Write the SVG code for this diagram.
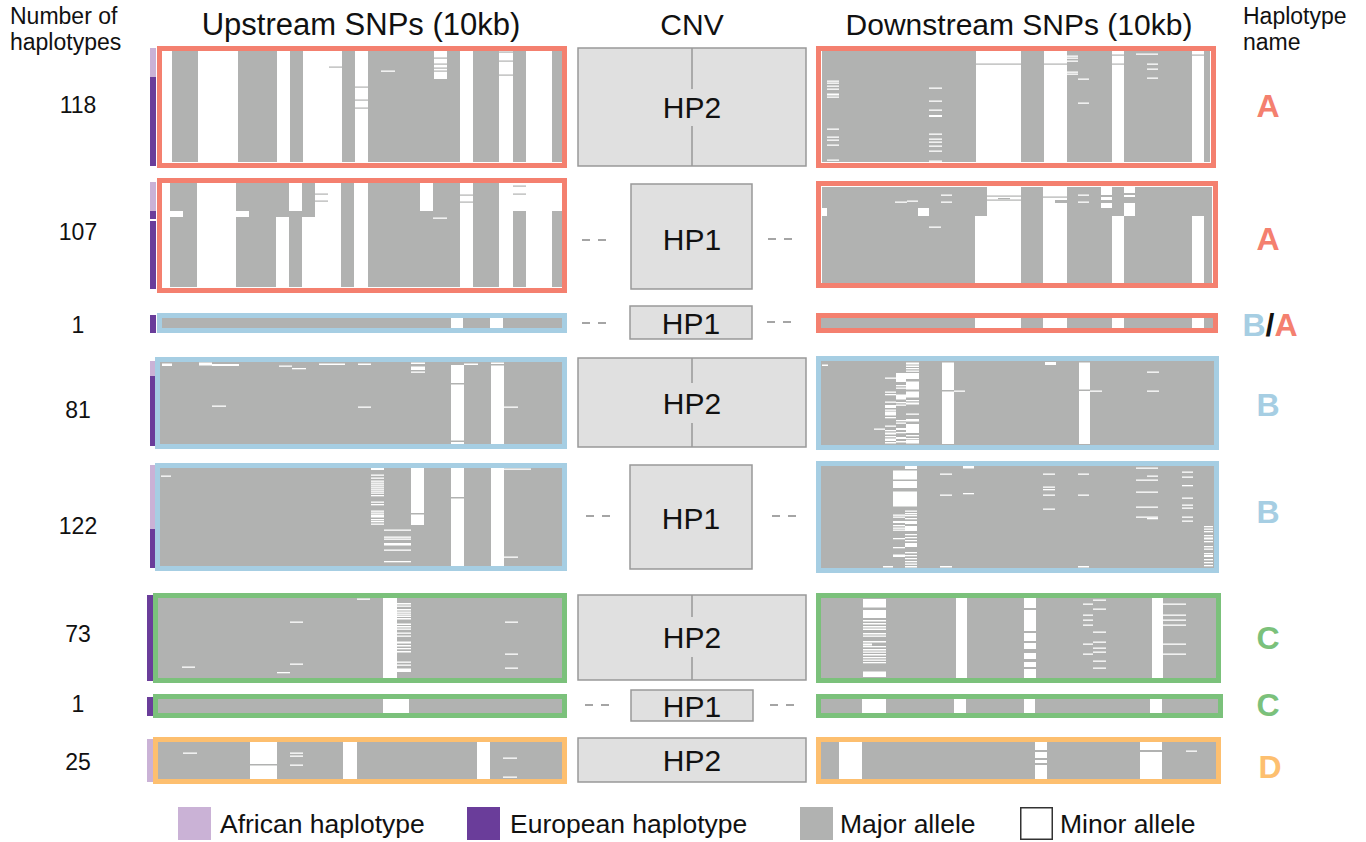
<svg xmlns="http://www.w3.org/2000/svg" width="1366" height="842" viewBox="0 0 1366 842">
<style>
text{font-family:"Liberation Sans",Arial,Helvetica,sans-serif;fill:#111}
.g{fill:#b1b2b1}
.w rect,rect.w{fill:#fff}
.gl rect{fill:#b1b2b1}
.bR{fill:none;stroke:#f4806f;stroke-width:5}
.bB{fill:none;stroke:#a6cee3;stroke-width:5}
.bG{fill:none;stroke:#7bc17b;stroke-width:5}
.bO{fill:none;stroke:#fdbf6f;stroke-width:5}
.af{fill:#cab2d6}
.eu{fill:#6a3d9a}
.cnv rect{fill:#e0e0e0;stroke:#999;stroke-width:1.5}
.cnv line{stroke:#999;stroke-width:1.5}
.cnv text{font-size:30px;text-anchor:middle}
.cnt{font-size:23px;text-anchor:middle}
.hd{font-size:30px;text-anchor:middle}
.sm{font-size:23px}
.nm{font-size:32px;font-weight:bold;text-anchor:middle}
.lg{font-size:26.5px}
.dash{stroke:#888;stroke-width:1.5;stroke-dasharray:8 8}
</style>

<!-- headers -->
<g id="headers">
<text class="sm" x="10" y="24">Number of</text>
<text class="sm" x="10" y="50">haplotypes</text>
<text class="hd" x="361" y="35" style="font-size:31px">Upstream SNPs (10kb)</text>
<text class="hd" x="692" y="35">CNV</text>
<text class="hd" x="1019" y="35">Downstream SNPs (10kb)</text>
<text class="sm" x="1243" y="24">Haplotype</text>
<text class="sm" x="1243" y="50">name</text>
</g>

<!-- counts -->
<g id="counts">
<text class="cnt" x="78" y="113">118</text>
<text class="cnt" x="78" y="240">107</text>
<text class="cnt" x="78" y="333">1</text>
<text class="cnt" x="78" y="418">81</text>
<text class="cnt" x="78" y="534">122</text>
<text class="cnt" x="78" y="642">73</text>
<text class="cnt" x="78" y="712">1</text>
<text class="cnt" x="78" y="770">25</text>
</g>

<!-- ancestry bars -->
<g id="ancestry">
<rect class="af" x="150" y="48" width="6" height="29"/><rect class="eu" x="150" y="77" width="6" height="89"/>
<rect class="af" x="150" y="182" width="6" height="29"/><rect class="eu" x="150" y="211" width="6" height="8"/><rect class="eu" x="150" y="221" width="6" height="68"/>
<rect class="eu" x="150" y="315" width="6" height="18"/>
<rect class="af" x="150" y="361" width="6" height="15"/><rect class="eu" x="150" y="376" width="6" height="70"/>
<rect class="af" x="150" y="465" width="6" height="64"/><rect class="eu" x="150" y="529" width="6" height="39"/>
<rect class="eu" x="147" y="595" width="6" height="86"/>
<rect class="eu" x="147" y="697" width="6" height="19"/>
<rect class="af" x="147" y="739" width="6" height="43"/>
</g>

<!-- Row 1 upstream -->
<g id="up1">
<rect class="g" x="162" y="51" width="400" height="111"/>
<g class="w">
<rect x="162" y="51" width="10" height="111"/><rect x="198" y="51" width="40" height="111"/><rect x="277" y="51" width="13" height="111"/>
<rect x="303" y="51" width="39" height="111"/><rect x="355" y="51" width="13" height="111"/><rect x="434" y="51" width="13" height="28"/>
<rect x="460" y="51" width="13" height="111"/><rect x="499" y="51" width="14" height="111"/><rect x="526" y="51" width="26" height="111"/>
<rect x="381" y="70.5" width="14" height="1.3"/>
</g>
<g class="gl">
<rect x="329" y="66.5" width="13" height="1.2"/><rect x="355" y="86.5" width="13" height="1.2"/><rect x="355" y="99.5" width="13" height="1.2"/><rect x="355" y="107.5" width="13" height="1.2"/>
<rect x="434" y="57.5" width="13" height="1.2"/><rect x="434" y="63.5" width="13" height="1.2"/><rect x="434" y="67.5" width="13" height="1.2"/><rect x="434" y="70.5" width="13" height="1.2"/>
<rect x="499" y="51.5" width="14" height="1.2"/><rect x="499" y="60.5" width="14" height="1.2"/><rect x="499" y="74.5" width="14" height="1.2"/>
</g>
<rect class="bR" x="159.5" y="48.5" width="405" height="117"/>
</g>

<!-- Row 1 downstream -->
<g id="down1">
<rect class="g" x="822" y="51" width="388" height="111"/>
<g class="w">
<rect x="976" y="51" width="45" height="111"/><rect x="1044" y="51" width="23" height="111"/><rect x="1112" y="51" width="12" height="111"/><rect x="1192" y="51" width="12" height="111"/>
<rect x="827" y="80.5" width="12" height="1.3"/><rect x="827" y="82.5" width="12" height="1.3"/><rect x="827" y="85.5" width="12" height="1.3"/><rect x="827" y="88.5" width="12" height="1.3"/><rect x="827" y="93.5" width="12" height="2"/><rect x="827" y="96.5" width="12" height="1.3"/><rect x="827" y="128.5" width="12" height="1.3"/><rect x="827" y="136.5" width="12" height="1.3"/><rect x="827" y="139.5" width="12" height="1.3"/><rect x="827" y="144.5" width="12" height="1.3"/><rect x="827" y="159.5" width="12" height="1.3"/>
<rect x="929" y="87.5" width="13" height="1.3"/><rect x="929" y="100.5" width="13" height="1.3"/><rect x="929" y="109.5" width="13" height="1.3"/><rect x="929" y="115" width="13" height="2"/><rect x="929" y="133.5" width="13" height="1.3"/><rect x="929" y="138.5" width="13" height="1.3"/><rect x="929" y="141.5" width="13" height="1.3"/><rect x="929" y="145.5" width="13" height="1.3"/><rect x="929" y="150.5" width="13" height="1.3"/><rect x="929" y="160.5" width="13" height="1.3"/>
<rect x="1067" y="55.5" width="11" height="1.3"/><rect x="1067" y="57.5" width="11" height="1.3"/><rect x="1067" y="60.5" width="11" height="1.3"/><rect x="1067" y="71.5" width="11" height="1.3"/><rect x="1067" y="73.5" width="11" height="1.3"/>
<rect x="1078" y="78.5" width="11" height="1.3"/><rect x="1078" y="102.5" width="11" height="1.3"/>
<rect x="1136" y="53.5" width="22" height="1.3"/><rect x="1147" y="63.5" width="11" height="1.3"/><rect x="1147" y="68.5" width="11" height="1.3"/><rect x="1147" y="77.5" width="11" height="1.3"/>
</g>
<g class="gl">
<rect x="976" y="63.5" width="45" height="1.2"/><rect x="1044" y="63.5" width="23" height="1.2"/><rect x="1112" y="54.5" width="12" height="1.2"/><rect x="1112" y="63.5" width="12" height="1.2"/><rect x="1192" y="54.5" width="12" height="1.2"/>
</g>
<rect class="bR" x="818.5" y="48.5" width="395" height="117"/>
</g>

<!-- Row 2 upstream -->
<g id="up2">
<rect class="g" x="162" y="183" width="400" height="104"/>
<g class="w">
<rect x="162" y="183" width="8" height="104"/><rect x="170" y="211" width="13" height="6"/><rect x="197" y="183" width="39" height="104"/><rect x="236" y="211" width="13" height="6"/>
<rect x="276" y="217" width="13" height="70"/><rect x="289" y="183" width="13" height="28"/><rect x="302" y="217" width="13" height="70"/><rect x="315" y="183" width="26" height="104"/>
<rect x="354" y="183" width="14" height="104"/><rect x="420" y="183" width="13" height="28"/><rect x="433" y="217.5" width="14" height="1.3"/>
<rect x="460" y="183" width="13" height="104"/><rect x="499" y="183" width="14" height="104"/><rect x="513" y="183" width="13" height="28"/><rect x="526" y="183" width="26" height="104"/><rect x="552" y="183" width="10" height="28"/>
</g>
<g class="gl">
<rect x="315" y="193.5" width="13" height="1.2"/><rect x="315" y="200.5" width="13" height="1.2"/><rect x="460" y="194.5" width="13" height="1.2"/><rect x="460" y="201.5" width="13" height="1.2"/>
<rect x="513" y="185.5" width="13" height="1.2"/><rect x="513" y="193.5" width="13" height="1.2"/>
</g>
<rect class="bR" x="159.5" y="180.5" width="405" height="110"/>
</g>

<!-- Row 2 downstream -->
<g id="down2">
<rect class="g" x="822" y="187" width="390" height="96"/>
<g class="w">
<rect x="822" y="208" width="5" height="8"/><rect x="895" y="201.5" width="12" height="1.3"/><rect x="907" y="200.5" width="11" height="1.3"/><rect x="918" y="208" width="11" height="8"/>
<rect x="929" y="226.5" width="12" height="1.3"/><rect x="941" y="194.5" width="11" height="1.3"/><rect x="941" y="201.5" width="11" height="1.3"/>
<rect x="975" y="216" width="12" height="67"/><rect x="987" y="187" width="34" height="96"/><rect x="1043" y="187" width="24" height="96"/>
<rect x="1078" y="194.5" width="11" height="1.3"/><rect x="1078" y="201.5" width="11" height="1.3"/>
<rect x="1101" y="187" width="11" height="8"/><rect x="1101" y="197" width="11" height="3"/><rect x="1101" y="203" width="11" height="5"/>
<rect x="1112" y="216" width="12" height="67"/><rect x="1124" y="187" width="11" height="6"/><rect x="1124" y="195" width="11" height="2"/><rect x="1124" y="203" width="11" height="13"/>
<rect x="1192" y="216" width="12" height="67"/>
</g>
<g class="gl">
<rect x="987" y="195.5" width="34" height="1.2"/><rect x="987" y="199.5" width="34" height="1.2"/><rect x="998" y="198" width="12" height="1.2"/>
<rect x="1043" y="196.5" width="24" height="1.2"/><rect x="1055" y="200" width="12" height="3"/>
</g>
<rect class="bR" x="818.5" y="183.5" width="397" height="102"/>
</g>

<!-- Row 3 -->
<g id="up3">
<rect class="g" x="162" y="318" width="400" height="10"/>
<g class="w"><rect x="451" y="318" width="12" height="10"/><rect x="490" y="318" width="13" height="10"/></g>
<rect class="bB" x="159.5" y="315.5" width="405" height="15"/>
</g>
<g id="down3">
<rect class="g" x="821" y="318" width="394" height="10"/>
<g class="w"><rect x="975" y="318" width="46" height="10"/><rect x="1043" y="318" width="24" height="10"/><rect x="1112" y="318" width="12" height="10"/><rect x="1192" y="318" width="12" height="10"/></g>
<rect class="bR" x="818.5" y="315.5" width="397" height="15"/>
</g>

<!-- Row 4 upstream -->
<g id="up4">
<rect class="g" x="160" y="362" width="402" height="82"/>
<g class="w">
<rect x="162" y="363.5" width="10" height="2.5"/><rect x="199" y="362.5" width="13" height="3"/><rect x="212" y="364" width="27" height="2"/><rect x="212" y="405.5" width="14" height="1.3"/>
<rect x="279" y="365.5" width="13" height="1.3"/><rect x="292" y="368" width="14" height="1.3"/><rect x="319" y="363.5" width="26" height="1.5"/><rect x="358" y="363.5" width="13" height="1.5"/><rect x="358" y="406.5" width="13" height="1.3"/>
<rect x="411" y="362.5" width="14" height="1.5"/><rect x="411" y="366.5" width="14" height="3.5"/><rect x="411" y="371.5" width="14" height="1.3"/>
<rect x="451" y="365" width="13" height="18"/><rect x="451" y="384.5" width="13" height="56"/><rect x="451" y="442" width="13" height="2"/>
<rect x="464" y="363.5" width="14" height="1.5"/><rect x="491" y="362.5" width="13" height="1.5"/><rect x="491" y="365.5" width="13" height="78.5"/><rect x="504" y="406.5" width="14" height="1.3"/>
</g>
<rect class="bB" x="157.5" y="359.5" width="407" height="87"/>
</g>

<!-- Row 4 downstream -->
<g id="down4">
<rect class="g" x="821" y="361" width="393" height="84"/>
<g class="w">
<rect x="822" y="364.5" width="6" height="1.5"/>
<rect x="885" y="377.5" width="11" height="1.3"/><rect x="885" y="391.5" width="11" height="1.3"/><rect x="885" y="394" width="11" height="1.3"/><rect x="885" y="401.5" width="11" height="1.3"/><rect x="885" y="405" width="11" height="3"/><rect x="885" y="409.5" width="11" height="1.3"/><rect x="885" y="411.5" width="11" height="4"/><rect x="885" y="417" width="11" height="1.3"/><rect x="885" y="425.5" width="11" height="1.3"/><rect x="885" y="430" width="11" height="1.3"/><rect x="885" y="432.5" width="11" height="2"/><rect x="885" y="436" width="11" height="1.3"/><rect x="885" y="438.5" width="11" height="2.5"/><rect x="885" y="442" width="11" height="1.5"/>
<rect x="896" y="373" width="10" height="9"/><rect x="896" y="385" width="10" height="1.3"/><rect x="896" y="387.5" width="10" height="1.3"/><rect x="896" y="394.5" width="10" height="5"/><rect x="896" y="402" width="10" height="1.3"/><rect x="896" y="404.5" width="10" height="1.3"/><rect x="896" y="420" width="10" height="1.3"/><rect x="896" y="422.5" width="10" height="1.3"/><rect x="896" y="428" width="10" height="2"/><rect x="896" y="432" width="10" height="1.3"/><rect x="896" y="437" width="10" height="2"/><rect x="896" y="441" width="10" height="1.5"/>
<rect x="906" y="362.5" width="13" height="2"/><rect x="906" y="365.5" width="13" height="1.5"/><rect x="906" y="368" width="13" height="1.3"/><rect x="906" y="370.5" width="13" height="1.3"/><rect x="906" y="373" width="13" height="6"/><rect x="906" y="381.5" width="13" height="8"/><rect x="906" y="391.5" width="13" height="6"/><rect x="906" y="400" width="13" height="1.3"/><rect x="906" y="402.5" width="13" height="2"/><rect x="906" y="413.5" width="13" height="1.3"/><rect x="906" y="419" width="13" height="2.5"/><rect x="906" y="424" width="13" height="9"/><rect x="906" y="435" width="13" height="1.3"/><rect x="906" y="438" width="13" height="1.3"/><rect x="906" y="440" width="13" height="3.5"/>
<rect x="874" y="428.5" width="11" height="1.3"/>
<rect x="942" y="362.5" width="12" height="27.5"/><rect x="942" y="391.5" width="12" height="52.5"/><rect x="954" y="390.5" width="11" height="1.3"/>
<rect x="1045" y="362" width="11" height="3"/>
<rect x="1079" y="362.5" width="11" height="27"/><rect x="1079" y="391" width="11" height="53"/><rect x="1090" y="390.5" width="12" height="1.3"/>
<rect x="1147" y="371.5" width="12" height="1.3"/><rect x="1147" y="390.5" width="12" height="1.3"/>
</g>
<rect class="bB" x="818.5" y="358.5" width="398" height="89"/>
</g>

<!-- Row 5 upstream -->
<g id="up5">
<rect class="g" x="160" y="468" width="402" height="98"/>
<g class="w">
<rect x="161" y="475.5" width="10" height="1.3"/>
<rect x="371" y="468" width="13" height="2"/><rect x="371" y="474.5" width="13" height="1.3"/><rect x="371" y="477.5" width="13" height="1.3"/><rect x="371" y="480.5" width="13" height="1.3"/><rect x="371" y="482.5" width="13" height="1.3"/><rect x="371" y="484.5" width="13" height="1.3"/><rect x="371" y="486.5" width="13" height="1.3"/><rect x="371" y="488.5" width="13" height="1.3"/><rect x="371" y="490.5" width="13" height="1.3"/><rect x="371" y="492.5" width="13" height="1.3"/><rect x="371" y="495" width="13" height="1.3"/><rect x="371" y="501.5" width="13" height="1.3"/><rect x="371" y="504" width="13" height="1.3"/><rect x="371" y="510.5" width="13" height="1.3"/><rect x="371" y="512.5" width="13" height="1.3"/><rect x="371" y="514.5" width="13" height="3"/><rect x="371" y="519" width="13" height="1.3"/><rect x="371" y="521" width="13" height="1.3"/><rect x="371" y="523.5" width="13" height="1.3"/>
<rect x="384" y="529.5" width="27" height="1.3"/><rect x="384" y="536.5" width="27" height="1.3"/><rect x="384" y="538.5" width="27" height="1.3"/><rect x="384" y="543" width="27" height="2.5"/><rect x="384" y="549.5" width="27" height="1.3"/><rect x="384" y="561" width="27" height="1.3"/>
<rect x="411" y="468" width="13" height="45"/><rect x="411" y="514.5" width="13" height="10.5"/>
<rect x="451" y="468" width="13" height="29"/><rect x="451" y="498.5" width="13" height="67.5"/>
<rect x="491" y="468" width="13" height="98"/><rect x="504" y="468.5" width="27" height="1.3"/><rect x="504" y="556.5" width="14" height="1.3"/>
</g>
<rect class="bB" x="157.5" y="465.5" width="407" height="103"/>
</g>

<!-- Row 5 downstream -->
<g id="down5">
<rect class="g" x="821" y="466" width="393" height="102"/>
<g class="w">
<rect x="905" y="466" width="12" height="3"/>
<rect x="893" y="470.5" width="24" height="9"/><rect x="893" y="481" width="24" height="7"/><rect x="893" y="491.5" width="24" height="15"/>
<rect x="893" y="514.5" width="12" height="1.3"/><rect x="893" y="516.5" width="12" height="1.3"/><rect x="893" y="521" width="12" height="2"/><rect x="893" y="525" width="12" height="1.3"/><rect x="893" y="527.5" width="12" height="1.3"/><rect x="893" y="529.5" width="12" height="1.3"/><rect x="893" y="538" width="12" height="1.3"/><rect x="893" y="547" width="12" height="1.3"/><rect x="893" y="554.5" width="12" height="2.5"/>
<rect x="905" y="510.5" width="12" height="1.3"/><rect x="905" y="513" width="12" height="1.3"/><rect x="905" y="515" width="12" height="1.3"/><rect x="905" y="518" width="12" height="1.3"/><rect x="905" y="521" width="12" height="3"/><rect x="905" y="526" width="12" height="5"/><rect x="905" y="534" width="12" height="1.3"/><rect x="905" y="537" width="12" height="1.3"/><rect x="905" y="540" width="12" height="1.3"/><rect x="905" y="543" width="12" height="4"/><rect x="905" y="552" width="12" height="1.3"/><rect x="905" y="555" width="12" height="1.3"/><rect x="905" y="558" width="12" height="1.3"/><rect x="905" y="561" width="12" height="1.3"/><rect x="905" y="563.5" width="12" height="1.3"/><rect x="905" y="566" width="12" height="1.5"/>
<rect x="883" y="566" width="10" height="1.5"/><rect x="940" y="566" width="12" height="1.5"/><rect x="1078" y="566" width="11" height="1.5"/>
<rect x="940" y="473.5" width="12" height="1.3"/><rect x="940" y="494.5" width="12" height="1.3"/>
<rect x="963" y="466" width="11" height="2.5"/><rect x="963" y="493" width="11" height="1.3"/>
<rect x="1043" y="473.5" width="12" height="1.3"/><rect x="1043" y="486.5" width="12" height="1.3"/><rect x="1043" y="489" width="12" height="1.3"/><rect x="1043" y="494.5" width="12" height="1.3"/><rect x="1043" y="508.5" width="12" height="1.3"/>
<rect x="1078" y="473.5" width="11" height="1.3"/><rect x="1078" y="494.5" width="11" height="1.3"/>
<rect x="1136" y="467.5" width="22" height="1.3"/><rect x="1136" y="479.5" width="22" height="1.3"/><rect x="1136" y="491.5" width="22" height="1.3"/><rect x="1136" y="506.5" width="22" height="1.3"/><rect x="1136" y="516.5" width="22" height="1.3"/>
<rect x="1147" y="475.5" width="11" height="1.3"/><rect x="1147" y="518" width="11" height="1.3"/>
<rect x="1182" y="471.5" width="11" height="1.3"/><rect x="1182" y="476.5" width="11" height="1.3"/><rect x="1182" y="485" width="11" height="1.3"/><rect x="1182" y="497.5" width="11" height="1.3"/><rect x="1182" y="504.5" width="11" height="1.3"/><rect x="1182" y="507.5" width="11" height="1.3"/><rect x="1182" y="516.5" width="11" height="1.3"/><rect x="1182" y="520.5" width="11" height="1.3"/>
<rect x="1204" y="526" width="9" height="1.3"/><rect x="1204" y="528.5" width="9" height="1.3"/><rect x="1204" y="531" width="9" height="1.3"/><rect x="1204" y="535" width="9" height="1.3"/><rect x="1204" y="537.5" width="9" height="2"/><rect x="1204" y="541" width="9" height="1.3"/><rect x="1204" y="546" width="9" height="1.3"/><rect x="1204" y="548.5" width="9" height="1.3"/><rect x="1204" y="553" width="9" height="1.3"/><rect x="1204" y="555" width="9" height="2"/><rect x="1204" y="559" width="9" height="1.3"/><rect x="1204" y="562" width="9" height="1.3"/><rect x="1204" y="565" width="9" height="1.3"/>
</g>
<rect class="bB" x="818.5" y="463.5" width="398" height="107"/>
</g>

<!-- Row 6 upstream -->
<g id="up6">
<rect class="g" x="158" y="598" width="404" height="80"/>
<g class="w">
<rect x="357" y="598.5" width="13" height="1.3"/><rect x="290" y="621.5" width="13" height="1.3"/><rect x="290" y="663.5" width="13" height="1.3"/><rect x="182" y="666.5" width="13" height="1.3"/><rect x="277" y="672" width="13" height="1.3"/>
<rect x="383" y="598" width="14" height="80"/>
<rect x="397" y="603" width="14" height="1.5"/><rect x="397" y="605.5" width="14" height="1.3"/><rect x="397" y="609" width="14" height="1.5"/><rect x="397" y="611.5" width="14" height="1.3"/><rect x="397" y="613.5" width="14" height="1.3"/><rect x="397" y="615.5" width="14" height="1.5"/><rect x="397" y="618" width="14" height="1.5"/><rect x="397" y="623.5" width="14" height="1.5"/><rect x="397" y="626" width="14" height="1.5"/><rect x="397" y="628.5" width="14" height="1.3"/><rect x="397" y="632.5" width="14" height="1.3"/><rect x="397" y="635.5" width="14" height="1.3"/><rect x="397" y="641.5" width="14" height="2"/><rect x="397" y="645" width="14" height="1.5"/><rect x="397" y="648" width="14" height="1.3"/><rect x="397" y="651" width="14" height="1.5"/><rect x="397" y="661.5" width="14" height="1.3"/><rect x="397" y="664.5" width="14" height="1.3"/><rect x="397" y="668.5" width="14" height="3.5"/>
<rect x="505" y="621.5" width="13" height="1.3"/><rect x="505" y="653.5" width="13" height="1.3"/><rect x="505" y="667.5" width="13" height="1.3"/>
</g>
<rect class="bG" x="155.5" y="595.5" width="409" height="85"/>
</g>

<!-- Row 6 downstream -->
<g id="down6">
<rect class="g" x="821" y="598" width="395" height="80"/>
<g class="w">
<rect x="863" y="599" width="23" height="8.5"/><rect x="863" y="610" width="23" height="8"/><rect x="863" y="620" width="23" height="1.5"/><rect x="863" y="623" width="23" height="1.5"/><rect x="863" y="626" width="23" height="1.5"/><rect x="863" y="628.5" width="23" height="1.5"/><rect x="863" y="633" width="23" height="1.5"/><rect x="863" y="635.5" width="23" height="1.3"/><rect x="863" y="641" width="23" height="1.5"/><rect x="863" y="643.5" width="9" height="2"/><rect x="863" y="646" width="23" height="1.3"/><rect x="863" y="649" width="23" height="1.5"/><rect x="863" y="651.5" width="23" height="1.3"/><rect x="863" y="654" width="23" height="1.5"/><rect x="863" y="657" width="23" height="1.3"/><rect x="863" y="659.5" width="23" height="1.3"/><rect x="863" y="662" width="23" height="1.3"/><rect x="863" y="671.5" width="23" height="5.5"/>
<rect x="956" y="598" width="11" height="80"/>
<rect x="1024" y="598" width="12" height="10"/><rect x="1024" y="610" width="12" height="21"/><rect x="1024" y="633" width="12" height="8"/><rect x="1024" y="643" width="12" height="6"/><rect x="1024" y="653" width="12" height="6"/><rect x="1024" y="662" width="12" height="5"/><rect x="1024" y="669" width="12" height="9"/>
<rect x="1083" y="603.5" width="10" height="1.3"/><rect x="1083" y="614.5" width="10" height="1.3"/><rect x="1083" y="619.5" width="10" height="1.3"/><rect x="1083" y="624.5" width="10" height="1.3"/><rect x="1083" y="643.5" width="10" height="1.3"/><rect x="1083" y="653.5" width="10" height="1.3"/>
<rect x="1093" y="599.5" width="13" height="1.3"/><rect x="1093" y="608.5" width="13" height="1.3"/><rect x="1093" y="631.5" width="13" height="1.3"/><rect x="1093" y="641.5" width="13" height="1.3"/><rect x="1093" y="647.5" width="13" height="1.3"/><rect x="1093" y="651.5" width="13" height="1.3"/><rect x="1093" y="660.5" width="13" height="1.3"/><rect x="1093" y="667.5" width="13" height="1.3"/>
<rect x="1152" y="598" width="11" height="80"/>
<rect x="1163" y="603.5" width="23" height="1.3"/><rect x="1163" y="614.5" width="23" height="1.3"/><rect x="1163" y="619.5" width="23" height="1.3"/><rect x="1163" y="624.5" width="23" height="1.3"/><rect x="1163" y="643.5" width="23" height="1.3"/><rect x="1163" y="653.5" width="23" height="1.3"/>
</g>
<rect class="bG" x="818.5" y="595.5" width="400" height="85"/>
</g>

<!-- Row 7 -->
<g id="up7">
<rect class="g" x="158" y="699" width="404" height="14"/>
<rect class="w" x="383" y="699" width="26" height="14"/>
<rect class="bG" x="155.5" y="696.5" width="409" height="19"/>
</g>
<g id="down7">
<rect class="g" x="821" y="699" width="397" height="14"/>
<g class="w"><rect x="862" y="699" width="24" height="14"/><rect x="954" y="699" width="12" height="14"/><rect x="1024" y="699" width="11" height="14"/><rect x="1150" y="699" width="12" height="14"/></g>
<rect class="bG" x="818.5" y="696.5" width="402" height="19"/>
</g>

<!-- Row 8 -->
<g id="up8">
<rect class="g" x="158" y="742" width="404" height="37"/>
<g class="w">
<rect x="183" y="752.5" width="14" height="1.3"/><rect x="250" y="742" width="27" height="22"/><rect x="250" y="765.5" width="27" height="13.5"/>
<rect x="290" y="752.5" width="13" height="1.3"/><rect x="290" y="755.5" width="13" height="1.3"/><rect x="290" y="764.5" width="13" height="1.3"/>
<rect x="343" y="742" width="14" height="37"/><rect x="477" y="742" width="13" height="37"/>
<rect x="503" y="757.5" width="14" height="1.3"/><rect x="503" y="776.5" width="14" height="1.3"/>
</g>
<rect class="bO" x="155.5" y="739.5" width="409" height="42"/>
</g>
<g id="down8">
<rect class="g" x="821" y="742" width="395" height="37"/>
<g class="w">
<rect x="839" y="742" width="23" height="37"/>
<rect x="1035" y="742" width="12" height="8"/><rect x="1035" y="752" width="12" height="6"/><rect x="1035" y="760" width="12" height="3"/><rect x="1035" y="765" width="12" height="14"/>
<rect x="1140" y="742" width="22" height="8"/><rect x="1140" y="752" width="22" height="27"/>
<rect x="1186" y="750.5" width="11" height="1.3"/>
</g>
<rect class="bO" x="818.5" y="739.5" width="400" height="42"/>
</g>

<!-- CNV nodes -->
<g id="cnv1" class="cnv"><rect x="578" y="48" width="228" height="118"/><line x1="692" y1="48" x2="692" y2="89"/><line x1="692" y1="126" x2="692" y2="166"/><text x="692" y="118">HP2</text></g>
<g id="cnv2" class="cnv"><rect x="631" y="184" width="121" height="105"/><text x="692" y="250">HP1</text></g>
<g id="cnv3" class="cnv"><rect x="630" y="306" width="122" height="33"/><text x="691" y="334">HP1</text></g>
<g id="cnv4" class="cnv"><rect x="578" y="358" width="228" height="89"/><line x1="692" y1="358" x2="692" y2="383"/><line x1="692" y1="423" x2="692" y2="447"/><text x="692" y="414">HP2</text></g>
<g id="cnv5" class="cnv"><rect x="630" y="465" width="122" height="104"/><text x="691" y="529">HP1</text></g>
<g id="cnv6" class="cnv"><rect x="578" y="595" width="228" height="85"/><line x1="692" y1="595" x2="692" y2="617"/><line x1="692" y1="657" x2="692" y2="680"/><text x="692" y="648">HP2</text></g>
<g id="cnv7" class="cnv"><rect x="631" y="690" width="122" height="31"/><text x="692" y="717">HP1</text></g>
<g id="cnv8" class="cnv"><rect x="578" y="738" width="228" height="44"/><text x="692" y="771">HP2</text></g>

<!-- connectors -->
<g id="connectors">
<line class="dash" x1="582" y1="240" x2="606" y2="240"/><line class="dash" x1="768" y1="239" x2="792" y2="239"/>
<line class="dash" x1="582" y1="323" x2="606" y2="323"/><line class="dash" x1="767" y1="322" x2="791" y2="322"/>
<line class="dash" x1="586" y1="516" x2="610" y2="516"/><line class="dash" x1="772" y1="516" x2="796" y2="516"/>
<line class="dash" x1="585" y1="705" x2="609" y2="705"/><line class="dash" x1="770" y1="705" x2="794" y2="705"/>
</g>

<!-- haplotype names -->
<g id="names">
<text class="nm" x="1268" y="117" style="fill:#f4806f">A</text>
<text class="nm" x="1268" y="250" style="fill:#f4806f">A</text>
<text class="nm" x="1270" y="336"><tspan style="fill:#a6cee3">B</tspan><tspan style="fill:#111">/</tspan><tspan style="fill:#f4806f">A</tspan></text>
<text class="nm" x="1268" y="416" style="fill:#a6cee3">B</text>
<text class="nm" x="1268" y="523" style="fill:#a6cee3">B</text>
<text class="nm" x="1268" y="649" style="fill:#7bc17b">C</text>
<text class="nm" x="1268" y="716" style="fill:#7bc17b">C</text>
<text class="nm" x="1270" y="778" style="fill:#fdbf6f">D</text>
</g>

<!-- legend -->
<g id="legend">
<rect class="af" x="178" y="807" width="33" height="33"/><text class="lg" x="220" y="833">African haplotype</text>
<rect class="eu" x="467" y="807" width="33" height="33"/><text class="lg" x="510" y="833">European haplotype</text>
<rect class="g" x="800" y="807" width="33" height="33"/><text class="lg" x="840" y="833">Major allele</text>
<rect x="1020.75" y="807.75" width="31.5" height="31.5" fill="#fff" stroke="#333" stroke-width="1.5"/><text class="lg" x="1060" y="833">Minor allele</text>
</g>
</svg>
